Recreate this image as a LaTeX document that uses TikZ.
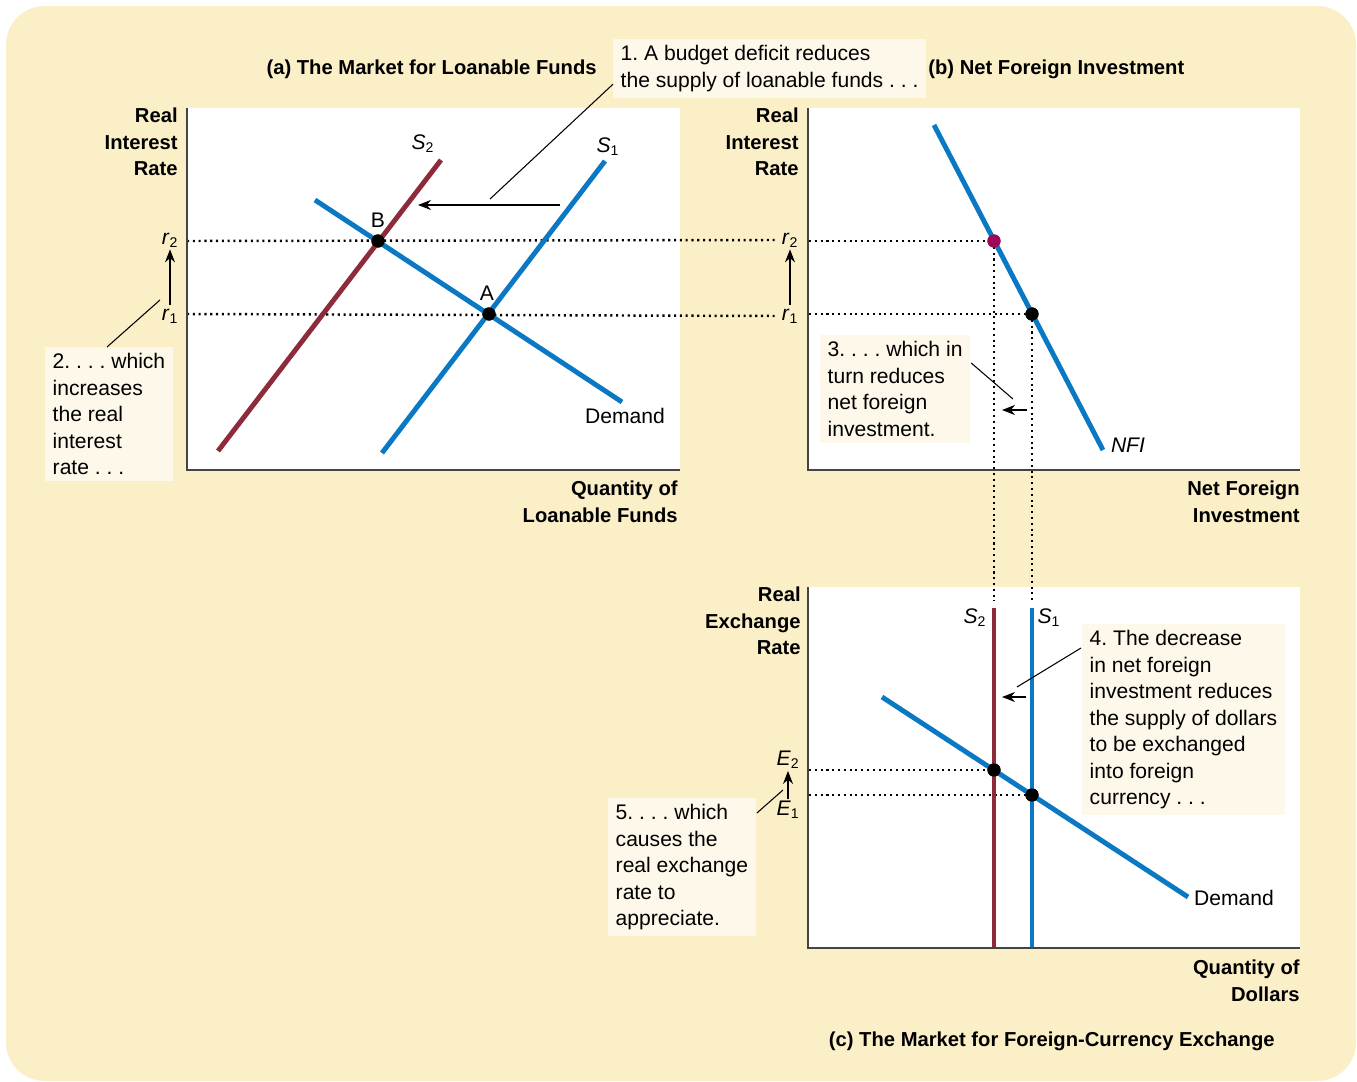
\documentclass[tikz,border=0pt]{standalone}
\usepackage{fontspec}
\setmainfont{Liberation Sans}
\frenchspacing
\definecolor{PanelCream}{HTML}{FBEFC8}
\definecolor{NoteCream}{HTML}{FEF8EA}
\definecolor{CurveBlue}{HTML}{0A78C2}
\definecolor{CurveRed}{HTML}{8E2B3B}
\definecolor{DotPurple}{HTML}{9E0A5A}
\definecolor{AxisGray}{HTML}{444444}
\usetikzlibrary{arrows.meta, positioning, calc}
\newcommand{\curvesub}[2]{\textit{#1}\textsubscript{#2}}
\tikzset{
  note/.style={fill=NoteCream, align=left, inner xsep=4.2pt, inner ysep=3.5pt, anchor=north west, font=\fontsize{12}{15.1}\selectfont},
  axlabel/.style={align=right, inner sep=0pt, anchor=east, font=\fontsize{11.5}{15.1}\selectfont\bfseries},
  paneltitle/.style={inner sep=0pt, font=\fontsize{11.5}{15.1}\selectfont\bfseries},
  curvelabel/.style={inner sep=0pt, font=\fontsize{12}{15.1}\selectfont},
  bluecurve/.style={draw=CurveBlue, line width=2.8pt},
  redcurve/.style={draw=CurveRed, line width=2.8pt},
  axisline/.style={draw=AxisGray, line width=1.1pt},
  guide/.style={line width=1.4pt, dash pattern=on 1.2pt off 2.1pt},
  eqdot/.style={circle, fill=black, inner sep=0pt, minimum size=7.5pt},
  leader/.style={draw=black, line width=0.6pt},
  shiftarrow/.style={-{Stealth[length=2.6mm, width=2mm]}, line width=0.7pt}
}

\begin{document}
\begin{tikzpicture}[x=0.02cm, y=-0.02cm]
\useasboundingbox (0,0) rectangle (1357,1082);
\fill[white] (0,0) rectangle (1357,1082);
\fill[PanelCream, rounded corners=22pt] (6,6) rectangle (1356,1081);

% panel frames
\fill[white] (187,108) rectangle (680,470);
\fill[white] (808,108) rectangle (1300,470);
\fill[white] (808,587) rectangle (1300,948);

% titles
\node[paneltitle, anchor=east] (titleA) at (597,69) {(a) The Market for Loanable Funds};
\node[paneltitle, anchor=west] (titleB) at (928,69) {(b) Net Foreign Investment};
\node[paneltitle, anchor=east] (titleC) at (1275,1041) {(c) The Market for Foreign-Currency Exchange};

% axis labels
\node[axlabel] (a-ylab) at (178,142) {Real\\Interest\\Rate};
\node[axlabel] (a-xlab) at (678,502) {Quantity of\\Loanable Funds};
\node[axlabel] (b-ylab) at (799,142) {Real\\Interest\\Rate};
\node[axlabel] (b-xlab) at (1300,502) {Net Foreign\\Investment};
\node[axlabel] (c-ylab) at (801,621) {Real\\Exchange\\Rate};
\node[axlabel] (c-xlab) at (1300,981) {Quantity of\\Dollars};

% rate labels
\node[curvelabel] (a-r2) at (170,240) {\curvesub{r}{2}};
\node[curvelabel] (a-r1) at (170,316) {\curvesub{r}{1}};
\node[curvelabel] (b-r2) at (790,240) {\curvesub{r}{2}};
\node[curvelabel] (b-r1) at (790,316) {\curvesub{r}{1}};
\node[curvelabel] (c-e2) at (788,760) {\curvesub{E}{2}};
\node[curvelabel] (c-e1) at (788,810) {\curvesub{E}{1}};

% equilibrium points
\node[eqdot] (ptB) at (378,241) {};
\node[eqdot] (ptA) at (489,314) {};
\node[eqdot, fill=DotPurple] (nfi2) at (994,241) {};
\node[eqdot] (nfi1) at (1032,314) {};
\node[eqdot] (fx2) at (994,770) {};
\node[eqdot] (fx1) at (1032,795) {};

\coordinate (a-ax2) at (187,241);
\coordinate (a-ax1) at (187,314);
\coordinate (b-ax2) at (809,241);
\coordinate (b-ax1) at (809,314);
\coordinate (c-ax2) at (809,770);
\coordinate (c-ax1) at (809,795);
\coordinate (c-top2) at (994,601);
\coordinate (c-top1) at (1032,601);

% dotted guides
\draw[guide] (a-ax2) -- ([xshift=-3pt]b-r2.west);
\draw[guide] (a-ax1) -- ([xshift=-3pt]b-r1.west);
\draw[guide] (b-ax2) -- (nfi2.center);
\draw[guide] (b-ax1) -- (nfi1.center);
\draw[guide] (nfi2.center) -- (c-top2);
\draw[guide] (nfi1.center) -- (c-top1);
\draw[guide] (c-ax2) -- (fx2.center);
\draw[guide] (c-ax1) -- (fx1.center);

% curves
\draw[redcurve] (218,451) -- (441,160);
\draw[bluecurve] (382,453) -- (605,161);
\draw[bluecurve] (315,200) -- (622,402);
\draw[bluecurve] (934,125) -- (1103,450);
\draw[redcurve] (994,608) -- (994,948);
\draw[bluecurve] (1032,608) -- (1032,948);
\draw[bluecurve] (882,697) -- (1188,897);

% axes
\draw[axisline] (187,108) -- (187,470) -- (680,470);
\draw[axisline] (808,108) -- (808,470) -- (1300,470);
\draw[axisline] (808,587) -- (808,948) -- (1300,948);

% dots on top
\node[eqdot] at (ptB) {};
\node[eqdot] at (ptA) {};
\node[eqdot, fill=DotPurple] at (nfi2) {};
\node[eqdot] at (nfi1) {};
\node[eqdot] at (fx2) {};
\node[eqdot] at (fx1) {};

% curve labels
\node[curvelabel] (a-s2) at (423,144) {\curvesub{S}{2}};
\node[curvelabel] (a-s1) at (608,147) {\curvesub{S}{1}};
\node[curvelabel] (lblB) at (378,220) {B};
\node[curvelabel] (lblA) at (487,293) {A};
\node[curvelabel] (a-dem) at (625,416) {Demand};
\node[curvelabel] (b-nfi) at (1128,445) {\textit{NFI}};
\node[curvelabel] (c-s2) at (975,618) {\curvesub{S}{2}};
\node[curvelabel] (c-s1) at (1049,618) {\curvesub{S}{1}};
\node[curvelabel] (c-dem) at (1234,898) {Demand};

% notes
\node[note] (note1) at (613,39) {1. A budget deficit reduces\\the supply of loanable funds . . .};
\node[note] (note2) at (45,347) {2. . . . which\\increases\\the real\\interest\\rate . . .};
\node[note] (note3) at (820,335) {3. . . . which in\\turn reduces\\net foreign\\investment.};
\node[note] (note4) at (1082,624) {4. The decrease\\in net foreign\\investment reduces\\the supply of dollars\\to be exchanged\\into foreign\\currency . . .};
\node[note] (note5) at (608,798) {5. . . . which\\causes the\\real exchange\\rate to\\appreciate.};

% leaders
\coordinate (lead1) at (490,199);
\coordinate (lead2) at (160,300);
\coordinate (lead3) at (1013,399);
\coordinate (lead4) at (1017,687);
\coordinate (lead5) at (783,790);
\draw[leader] ($(note1.south west)+(0,-14)$) -- (lead1);
\draw[leader] ($(note2.north west)+(62,0)$) -- (lead2);
\draw[leader] ($(note3.north east)+(1,28)$) -- (lead3);
\draw[leader] ($(note4.north west)+(-1,24)$) -- (lead4);
\draw[leader] ($(note5.north east)+(1,15)$) -- (lead5);

% shift arrows
\coordinate (a-shiftfrom) at (560,205);
\coordinate (a-shiftto) at (418,205);
\coordinate (b-shiftfrom) at (1027,410);
\coordinate (b-shiftto) at (1002,410);
\coordinate (c-shiftfrom) at (1026,697);
\coordinate (c-shiftto) at (1002,697);
\draw[shiftarrow] (a-shiftfrom) -- (a-shiftto);
\draw[shiftarrow] (b-shiftfrom) -- (b-shiftto);
\draw[shiftarrow] (c-shiftfrom) -- (c-shiftto);
\draw[shiftarrow, shorten <=2pt, shorten >=1pt] (a-r1.north) -- (a-r2.south);
\draw[shiftarrow, shorten <=2pt, shorten >=1pt] (b-r1.north) -- (b-r2.south);
\draw[shiftarrow, shorten <=1pt, shorten >=1pt] (c-e1.north) -- (c-e2.south);
\end{tikzpicture}
\end{document}
